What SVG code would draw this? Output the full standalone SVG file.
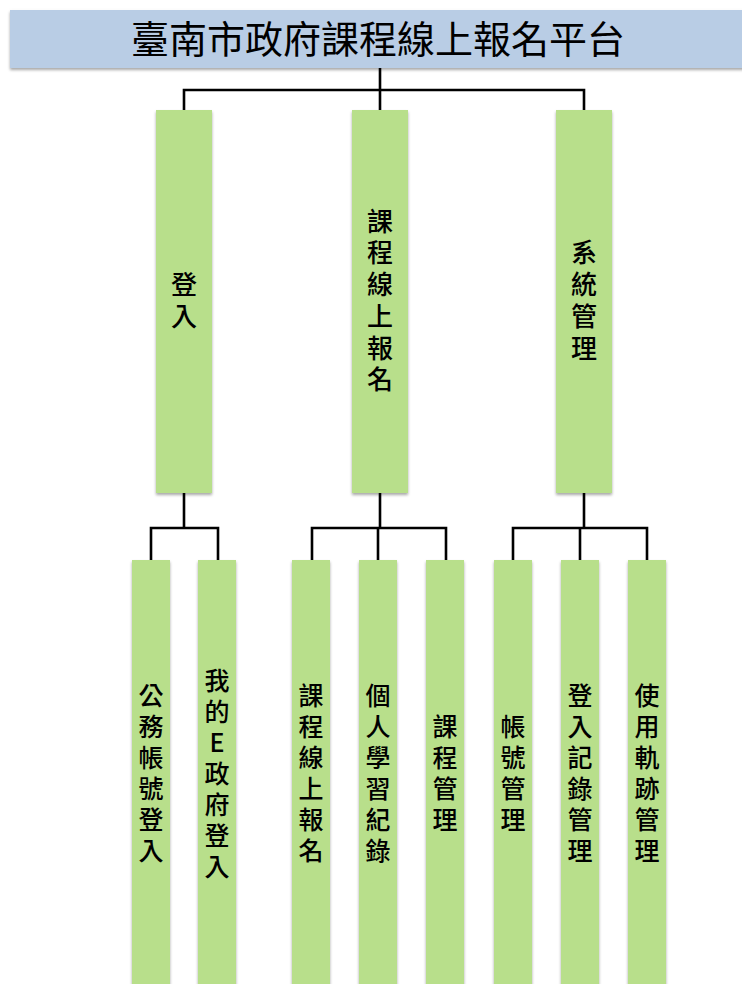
<svg xmlns="http://www.w3.org/2000/svg" width="742" height="984" viewBox="0 0 742 984">
<style>
.title{fill:#b9cde5;}
.box{fill:#b8df8b;}
.conn{stroke:#000;stroke-width:2.6;fill:none;}
.ttl{font-family:"Noto Sans CJK TC","Noto Sans CJK SC",sans-serif;font-size:38px;fill:#000;text-anchor:middle;}
.lbl{font-family:"Noto Sans CJK TC","Noto Sans CJK SC",sans-serif;font-size:25px;font-weight:500;fill:#000;text-anchor:middle;writing-mode:vertical-rl;text-orientation:upright;letter-spacing:6px;}
.lblm{font-family:"Noto Sans CJK TC","Noto Sans CJK SC",sans-serif;font-size:26px;font-weight:500;fill:#000;text-anchor:middle;writing-mode:vertical-rl;text-orientation:upright;letter-spacing:5.7px;}
</style>
<defs>
<filter id="sh" x="-20%" y="-5%" width="140%" height="115%">
<feGaussianBlur in="SourceAlpha" stdDeviation="1.5"/>
<feOffset dx="0" dy="1.5" result="b"/>
<feComponentTransfer><feFuncA type="linear" slope="0.35"/></feComponentTransfer>
<feMerge><feMergeNode/><feMergeNode in="SourceGraphic"/></feMerge>
</filter>
</defs>
<rect width="742" height="984" fill="#fff"/>
<g id="connectors">
<path class="conn" d="M380 68V110M184 110V90H584V110"/>
<path class="conn" d="M184 493V528M151 560V528H218V560"/>
<path class="conn" d="M380 493V528M312 560V528H446V560M378 528V560"/>
<path class="conn" d="M584 493V528M513 560V528H647V560M580 528V560"/>
</g>
<g id="root">
<rect class="title" x="10" y="10" width="740" height="58" filter="url(#sh)"/>
<text class="ttl" x="378" y="53">臺南市政府課程線上報名平台</text>
</g>
<g id="n-login">
<rect class="box" x="156" y="110" width="56" height="383" filter="url(#sh)"/>
<text class="lblm" x="184" y="303">登入</text>
</g>
<g id="n-signup">
<rect class="box" x="352" y="110" width="56" height="383" filter="url(#sh)"/>
<text class="lblm" x="380" y="303">課程線上報名</text>
</g>
<g id="n-sys">
<rect class="box" x="556" y="110" width="56" height="383" filter="url(#sh)"/>
<text class="lblm" x="584" y="303">系統管理</text>
</g>
<g id="n-official">
<rect class="box" x="132" y="560" width="38" height="430" filter="url(#sh)"/>
<text class="lbl" x="151" y="776">公務帳號登入</text>
</g>
<g id="n-egov">
<rect class="box" x="198" y="560" width="38" height="430" filter="url(#sh)"/>
<text class="lbl" x="217" y="776">我的E政府登入</text>
</g>
<g id="n-course-signup">
<rect class="box" x="292" y="560" width="38" height="430" filter="url(#sh)"/>
<text class="lbl" x="311" y="776">課程線上報名</text>
</g>
<g id="n-record">
<rect class="box" x="359" y="560" width="38" height="430" filter="url(#sh)"/>
<text class="lbl" x="378" y="776">個人學習紀錄</text>
</g>
<g id="n-course-mgmt">
<rect class="box" x="426" y="560" width="38" height="430" filter="url(#sh)"/>
<text class="lbl" x="445" y="776">課程管理</text>
</g>
<g id="n-account">
<rect class="box" x="494" y="560" width="38" height="430" filter="url(#sh)"/>
<text class="lbl" x="513" y="776">帳號管理</text>
</g>
<g id="n-loginlog">
<rect class="box" x="561" y="560" width="38" height="430" filter="url(#sh)"/>
<text class="lbl" x="580" y="776">登入記錄管理</text>
</g>
<g id="n-trace">
<rect class="box" x="628" y="560" width="38" height="430" filter="url(#sh)"/>
<text class="lbl" x="647" y="776">使用軌跡管理</text>
</g>
</svg>
